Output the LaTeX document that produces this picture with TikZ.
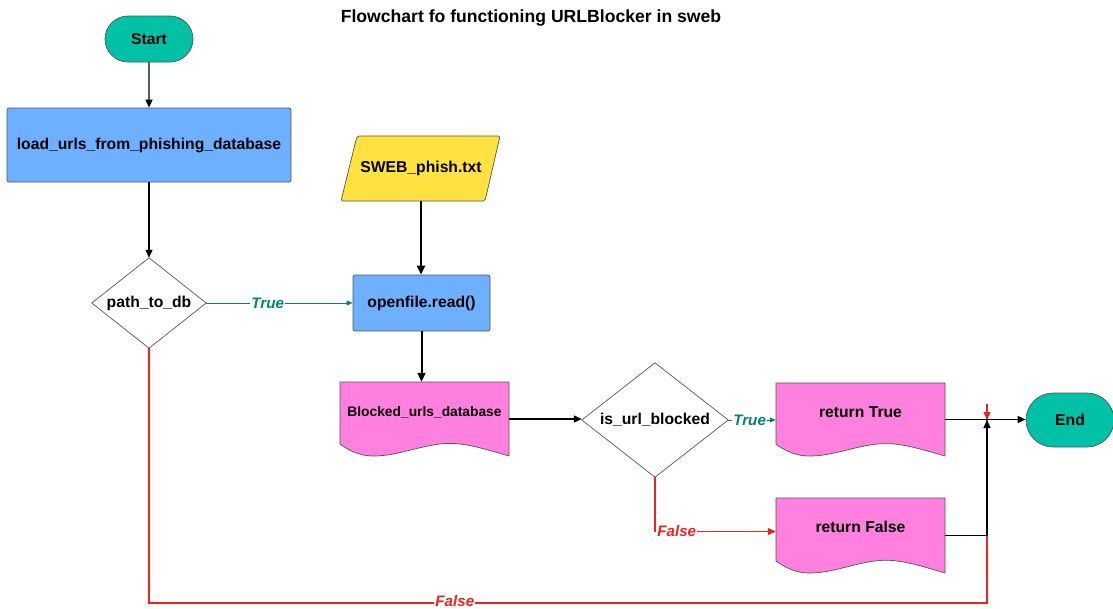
\documentclass[tikz,border=0pt]{standalone}
\usepackage{fontspec}
\setmainfont{Liberation Sans}
\usetikzlibrary{arrows.meta,shapes.misc,calc}
\definecolor{teal1}{RGB}{0,192,165}
\definecolor{blue1}{RGB}{108,176,255}
\definecolor{yellow1}{RGB}{255,225,64}
\definecolor{pink1}{RGB}{255,128,223}
\definecolor{green1}{RGB}{0,133,110}
\definecolor{red1}{RGB}{235,35,35}
\definecolor{edge1}{RGB}{85,85,85}
\newcommand\mainfnt{\fontsize{15.7}{18}\selectfont\bfseries}
\newcommand\smallfnt{\fontsize{13.8}{16}\selectfont\bfseries}
\newcommand\lblfnt{\fontsize{15.2}{18}\selectfont\bfseries\itshape}
\newcommand\titlefnt{\fontsize{17.6}{20}\selectfont\bfseries}
% document shape: x y w h (top-left, width, height)
\newcommand\docpath[4]{%
  \path[shapeline, fill=pink1] ({#1},{#2+0.84*#4}) -- ({#1},{#2}) -- ({#1+#3},{#2}) -- ({#1+#3},{#2+#4})
    .. controls ({#1+0.85*#3},{#2+0.9*#4}) and ({#1+0.75*#3},{#2+0.83*#4}) .. ({#1+0.65*#3},{#2+0.83*#4})
    .. controls ({#1+0.5*#3},{#2+0.83*#4}) and ({#1+0.35*#3},{#2+#4}) .. ({#1+0.2*#3},{#2+#4})
    .. controls ({#1+0.1*#3},{#2+#4}) and ({#1+0.04*#3},{#2+0.9*#4}) .. ({#1},{#2+0.84*#4}) -- cycle;}
\begin{document}
\begin{tikzpicture}[x=1pt,y=-1pt,
  every node/.style={font=\mainfnt, text=black},
  term/.style={rounded rectangle, draw=edge1, line width=0.7pt, fill=teal1, minimum width=88pt, inner sep=0pt},
  proc/.style={rectangle, draw=edge1, line width=0.7pt, fill=blue1, rounded corners=2pt, inner sep=0pt},
  anch/.style={rectangle, inner sep=0pt},
  shapeline/.style={draw=edge1, line width=0.7pt},
  conn/.style={draw=black, line width=1.4pt, -{Triangle[length=8pt,width=7pt]}},
  thickconn/.style={draw=black, line width=2pt, -{Triangle[length=9pt,width=8pt]}},
  trueconn/.style={draw=green1, line width=1pt, -{Triangle[length=6pt,width=5pt]}},
  falseconn/.style={draw=red1, line width=1.2pt, -{Triangle[length=8pt,width=7pt]}},
  truelbl/.style={fill=white, inner sep=1pt, text=green1, font=\lblfnt},
  falselbl/.style={fill=white, inner sep=1pt, text=red1, font=\lblfnt}
]
\useasboundingbox (0,0) rectangle (1113,608);
\fill[white] (0,0) rectangle (1113,608);

\node[font=\titlefnt] (title) at (531,18) {Flowchart fo functioning URLBlocker in sweb};

% terminals
\node[term, minimum height=46pt] (start) at (149,39) {Start};
\node[term, minimum height=54pt] (endn) at (1070,420) {End};

% processes
\node[proc, minimum width=284pt, minimum height=74pt] (load) at (149,145) {load\_urls\_from\_phishing\_database};
\node[proc, minimum width=137pt, minimum height=56pt] (openfile) at (421.5,303) {openfile.read()};

% input (parallelogram)
\path[shapeline, fill=yellow1, rounded corners=2pt] (341,201) -- (357,136) -- (500,136) -- (485,201) -- cycle;
\node[anch, minimum width=159pt, minimum height=65pt] (sweb) at (421,168.5) {SWEB\_phish.txt};

% decisions
\node[anch, minimum width=114pt, minimum height=90pt] (pathdb) at (149,303) {path\_to\_db};
\draw[shapeline] (pathdb.north) -- (pathdb.east) -- (pathdb.south) -- (pathdb.west) -- cycle;
\node[anch, minimum width=146pt, minimum height=114pt] (isurl) at (655,420) {is\_url\_blocked};
\draw[shapeline] (isurl.north) -- (isurl.east) -- (isurl.south) -- (isurl.west) -- cycle;

% documents
\docpath{340}{382}{169}{74}
\node[anch, minimum width=169pt, minimum height=74pt, label={[font=\smallfnt, yshift=7pt]center:Blocked\_urls\_database}] (blocked) at (424.5,419) {};
\docpath{776}{383}{169}{73}
\node[anch, minimum width=169pt, minimum height=73pt, label={[yshift=7.5pt]center:return True}] (rtrue) at (860.5,419.5) {};
\docpath{776}{498}{169}{75}
\node[anch, minimum width=169pt, minimum height=75pt, label={[yshift=8.5pt]center:return False}] (rfalse) at (860.5,535.5) {};

\coordinate (j) at (987,420);

% red false path from path_to_db (drawn first, under black lines)
\draw[falseconn] (pathdb.south) -- (pathdb.south |- 0,603) -- node[falselbl, pos=0.365, yshift=1.5pt, inner ysep=0.5pt] {False} (987,603) -- (987,404) -- (j);

% connectors
\draw[conn] (start) -- (load);
\draw[conn] (load) -- (pathdb.north);
\draw[trueconn] (pathdb.east) -- node[truelbl, pos=0.42] {True} (pathdb.east -| openfile.west);
\draw[thickconn] (sweb.south) -- (sweb.south |- openfile.north);
\draw[thickconn] (openfile.south) -- (openfile.south |- blocked.north);
\draw[conn] (blocked.east) -- (blocked.east -| isurl.west);
\draw[trueconn] (isurl.east) -- node[truelbl, pos=0.45] {True} (isurl.east -| rtrue.west);
\draw[falseconn] (isurl.south) |- node[falselbl, pos=0.59] {False} ($(rfalse.west)+(0,-4)$);
\draw[conn] (rtrue.east) -- (rtrue.east -| endn.west);
\draw[conn] (rfalse.east) -| (j);
\end{tikzpicture}
\end{document}
